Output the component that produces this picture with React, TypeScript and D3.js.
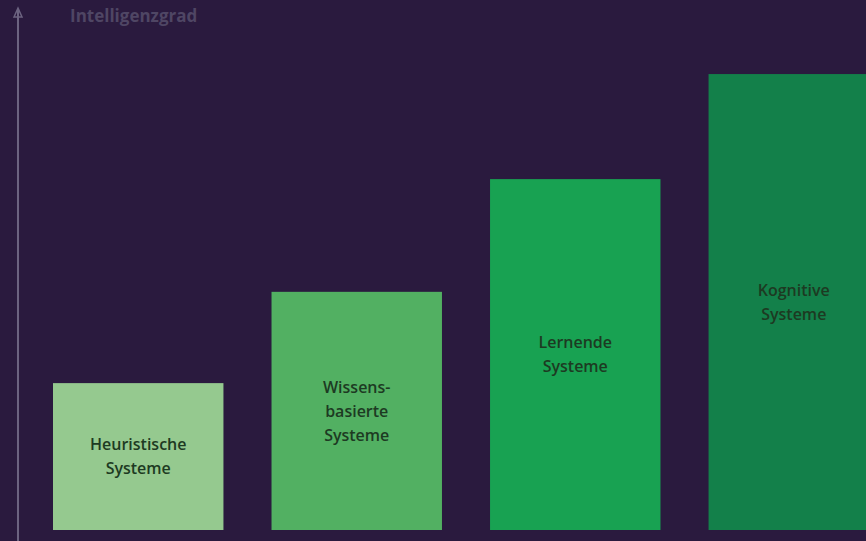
import React from "react";
import * as d3 from "d3";

const categories = ["Heuristische", "Wissensbasierte", "Lernende", "Kognitive"];
const labels: string[][] = [
  ["Heuristische", "Systeme"],
  ["Wissens-", "basierte", "Systeme"],
  ["Lernende", "Systeme"],
  ["Kognitive", "Systeme"],
];
const values = [28.8, 46.7, 68.8, 89.4];
const colors = ["#95c98f", "#52b062", "#18a252", "#13804a"];
const axisTitle = "Intelligenzgrad";

const W = 866;
const H = 541;

export default function App() {
  const x = d3.scaleBand<string>().domain(categories).range([53, 879]).paddingInner(0.22).paddingOuter(0);
  const y = d3.scaleLinear().domain([0, 100]).range([530, 20]);
  const lineH = 24;
  return (
    <svg width={W} height={H} style={{ position: "absolute", left: 0, top: 0, display: "block" }}>
      <rect x={0} y={0} width={W} height={H} fill="#2a1a3e" />
      <line x1={18} x2={18} y1={10} y2={H} stroke="#6c6380" strokeWidth={2} />
      <path d="M14,17 L18,8 L22,17 Z" fill="none" stroke="#6c6380" strokeWidth={1.5} />
      <text x={70} y={22} fill="#4f4664" fontFamily="'Open Sans', sans-serif" fontSize={17} fontWeight={700}>
        {axisTitle}
      </text>
      {categories.map((c, i) => {
        const x0 = x(c) ?? 0;
        const top = y(values[i]);
        const bottom = y(0);
        const cx = x0 + x.bandwidth() / 2;
        const cy = (top + bottom) / 2;
        const lines = labels[i];
        const startY = cy - ((lines.length - 1) * lineH) / 2;
        return (
          <g key={c}>
            <rect x={x0} y={top} width={x.bandwidth()} height={bottom - top} fill={colors[i]} />
            {lines.map((t, j) => (
              <text
                key={j}
                x={cx}
                y={startY + j * lineH}
                dy="0.35em"
                textAnchor="middle"
                fill="#1d3a22"
                fontFamily="'Open Sans', sans-serif"
                fontSize={16}
                fontWeight={600}
              >
                {t}
              </text>
            ))}
          </g>
        );
      })}
    </svg>
  );
}
